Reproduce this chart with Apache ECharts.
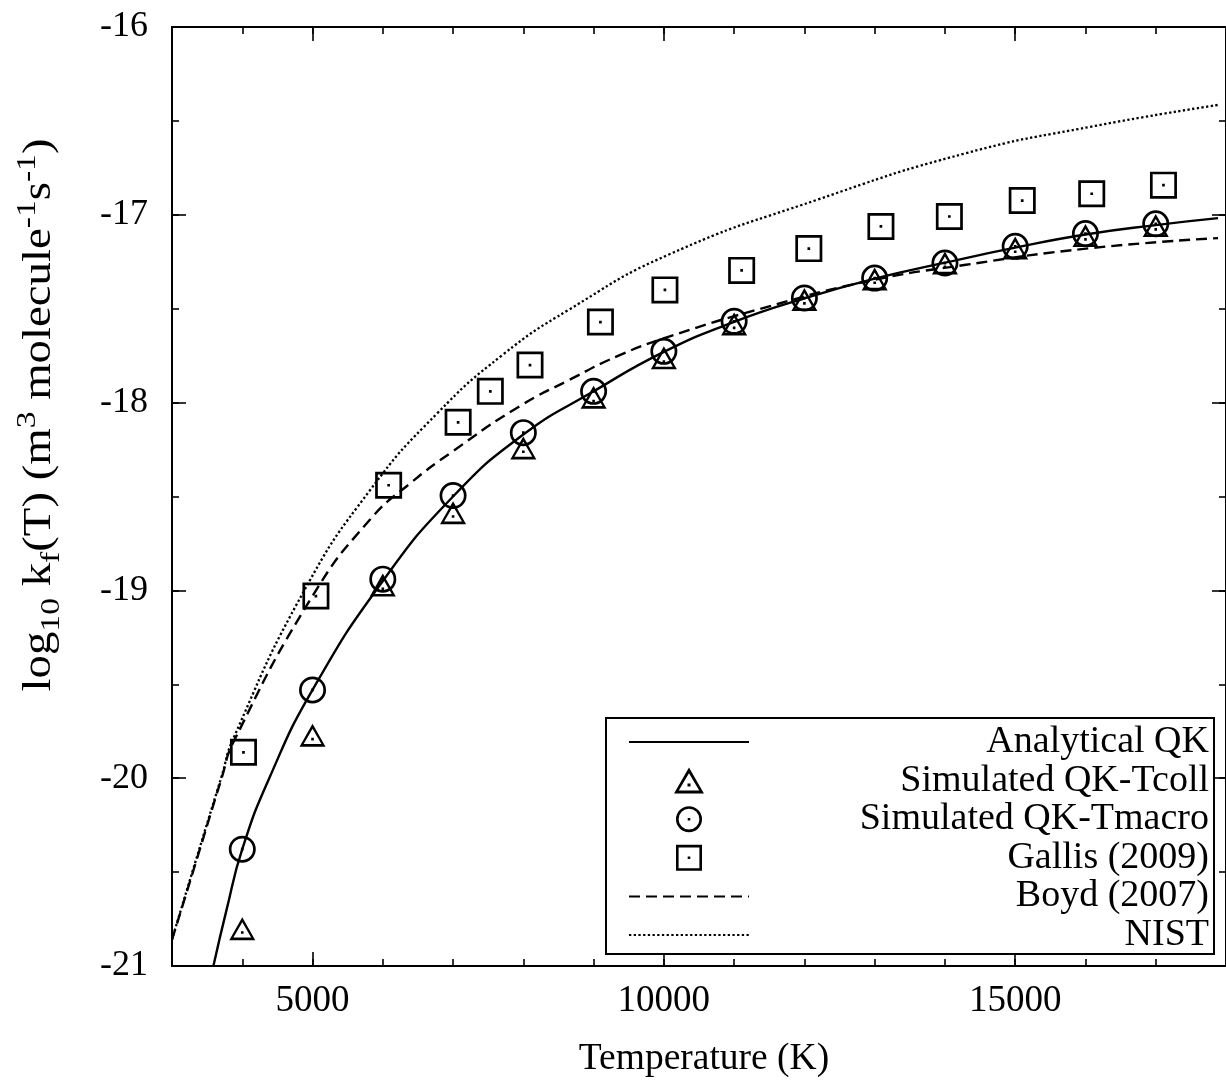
<!DOCTYPE html>
<html><head><meta charset="utf-8">
<script src="https://cdn.jsdelivr.net/npm/echarts@6/dist/echarts.min.js"></script>
<style>html,body{margin:0;padding:0;background:#fff}#c{width:1226px;height:1083px}</style>
</head><body><div id="c"></div>
<script>
// ---- data ----
const xTickLabels = [5000, 10000, 15000];
const yTickLabels = [-21, -20, -19, -18, -17, -16];

const simTemps = [4000, 5000, 6000, 7000, 8000, 9000, 10000, 11000, 12000, 13000, 14000, 15000, 16000, 17000];
const tcollValues = [-20.82, -19.79, -18.99, -18.605, -18.26, -17.99, -17.78, -17.60, -17.47, -17.36, -17.275, -17.195, -17.129, -17.076];
const tmacroValues = [-20.378, -19.53, -18.94, -18.495, -18.16, -17.94, -17.727, -17.567, -17.443, -17.337, -17.257, -17.168, -17.10, -17.048];

const gallisTemps = [4017, 5048, 6083, 7072, 7530, 8095, 9097, 10015, 11107, 12063, 13089, 14063, 15100, 16089, 17110];
const gallisValues = [-19.862, -19.03, -18.44, -18.105, -17.94, -17.80, -17.571, -17.40, -17.296, -17.18, -17.062, -17.009, -16.924, -16.888, -16.842];

const analyticTemps = [3589, 3777, 4000, 4384, 5000, 6000, 7000, 8000, 9000, 10000, 11000, 12000, 13000, 14000, 15000, 16000, 17000, 17887];
const analyticValues = [-21.0, -20.70, -20.378, -20.0, -19.53, -18.95, -18.50, -18.17, -17.94, -17.73, -17.57, -17.445, -17.34, -17.255, -17.175, -17.105, -17.055, -17.018];

const boydTemps = [3000, 3297, 3706, 3871, 5000, 5825, 6390, 6993, 7944, 8650, 9356, 10062, 11475, 12887, 14299, 16089, 17887];
const boydValues = [-20.86, -20.5, -20.0, -19.81, -19.03, -18.62, -18.43, -18.26, -18.02, -17.88, -17.75, -17.65, -17.49, -17.355, -17.266, -17.177, -17.124];

const nistTemps = [3000, 3297, 3706, 3871, 4883, 5825, 6767, 7708, 8650, 10062, 12181, 14299, 16089, 17887];
const nistValues = [-20.86, -20.49, -19.99, -19.79, -19.0, -18.463, -18.06, -17.745, -17.505, -17.213, -16.92, -16.672, -16.53, -16.415];

// ---- helpers ----
const zip = (xs, ys) => xs.map((x, i) => [x, ys[i]]);
const FONT = '"Liberation Serif", "Times New Roman", serif';
const BLACK = '#000';

const circlePath = 'path://M0,50 A50,50 0 1,1 100,50 A50,50 0 1,1 0,50 Z M10,50 A40,40 0 1,0 90,50 A40,40 0 1,0 10,50 Z M45,45 L55,45 L55,55 L45,55 Z';
const squarePath = 'path://M0,0 L100,0 L100,100 L0,100 Z M10,10 L10,90 L90,90 L90,10 Z M45,45 L55,45 L55,55 L45,55 Z';
const trianglePath = 'path://M50,0 L100,87 L0,87 Z M50,19 L15.8,77 L84.2,77 Z M45,53 L55,53 L55,63 L45,63 Z';

function xAxisDef(pos, major) {
  const a = {
    type: 'value', position: pos, min: 3000, max: 18000,
    axisLine: { show: false }, splitLine: { show: false },
    axisLabel: { show: false },
    axisTick: { show: true, inside: true, length: major ? 14 : 7, lineStyle: { color: BLACK, width: 1.6 } }
  };
  if (major) a.axisTick.customValues = xTickLabels; else a.interval = 1000;
  return a;
}
function yAxisDef(pos, major) {
  const a = {
    type: 'value', position: pos, min: -21, max: -16,
    axisLine: { show: false }, splitLine: { show: false },
    axisLabel: { show: false },
    axisTick: { show: true, inside: true, length: major ? 14 : 7, lineStyle: { color: BLACK, width: 1.6 } }
  };
  if (major) a.axisTick.customValues = yTickLabels; else a.interval = 0.5;
  return a;
}

const xAxes = [xAxisDef('bottom', false), xAxisDef('bottom', true), xAxisDef('top', false), xAxisDef('top', true)];
xAxes[0].axisLabel = { show: true, customValues: xTickLabels, formatter: v => String(v), color: BLACK, fontFamily: FONT, fontSize: 37, margin: 17 };
xAxes[0].name = 'Temperature (K)';
xAxes[0].nameLocation = 'middle';
xAxes[0].nameGap = 74;
xAxes[0].nameTextStyle = { color: BLACK, fontFamily: FONT, fontSize: 37.5, padding: [0, 0, 0, 10] };

const yAxes = [yAxisDef('left', false), yAxisDef('left', true), yAxisDef('right', false), yAxisDef('right', true)];
yAxes[0].axisLabel = { show: true, customValues: yTickLabels, formatter: v => String(v), color: BLACK, fontFamily: FONT, fontSize: 36, margin: 24 };

const yTitle = '{n|log}{s|10}{n| k}{s|f}{n|(T) (m}{p|3}{n| molecule}{p|-1}{n|s}{p|-1}{n|)}';

const lineLegendHide = { color: 'rgba(0,0,0,0)', borderColor: 'rgba(0,0,0,0)', borderWidth: 0, opacity: 0 };

const option = {
  animation: false,
  backgroundColor: '#fff',
  grid: { left: 172, top: 27, width: 1062, height: 940, show: true, borderColor: BLACK, borderWidth: 2, backgroundColor: 'transparent' },
  xAxis: xAxes,
  yAxis: yAxes,
  graphic: [{
    type: 'text', x: 40, y: 415, rotation: Math.PI / 2, scaleX: 1.2, scaleY: 1,
    style: {
      text: yTitle, align: 'center', verticalAlign: 'middle', fill: BLACK,
      font: '38px ' + FONT,
      rich: {
        n: { fontFamily: FONT, fontSize: 39, fill: BLACK, lineHeight: 52 },
        s: { fontFamily: FONT, fontSize: 28, fill: BLACK, verticalAlign: 'bottom' },
        p: { fontFamily: FONT, fontSize: 28, fill: BLACK, verticalAlign: 'top' }
      }
    }
  }],
  legend: {
    orient: 'vertical', left: 606, top: 718,
    itemWidth: 120, itemHeight: 26, itemGap: 0.6,
    padding: [5, 5, 0, 22],
    borderColor: BLACK, borderWidth: 2, backgroundColor: '#fff',
    formatter: name => '{r|' + name + '}',
    textStyle: {
      color: BLACK, fontFamily: FONT, fontSize: 38,
      rich: { r: { width: 455, align: 'right', fontFamily: FONT, fontSize: 38, color: BLACK, lineHeight: 38 } }
    },
    data: [
      { name: 'Analytical QK', itemStyle: lineLegendHide },
      'Simulated QK-Tcoll',
      'Simulated QK-Tmacro',
      'Gallis (2009)',
      { name: 'Boyd (2007)', itemStyle: lineLegendHide },
      { name: 'NIST', itemStyle: lineLegendHide }
    ]
  },
  series: [
    { name: 'Analytical QK', type: 'line', data: zip(analyticTemps, analyticValues), smooth: 0.5,
      symbol: 'none', lineStyle: { color: BLACK, width: 2.4 }, itemStyle: { color: BLACK } },
    { name: 'Simulated QK-Tcoll', type: 'scatter', data: zip(simTemps, tcollValues), symbol: trianglePath,
      symbolSize: [26, 23], symbolOffset: [0, -3.5], itemStyle: { color: BLACK, opacity: 1 } },
    { name: 'Simulated QK-Tmacro', type: 'scatter', data: zip(simTemps, tmacroValues), symbol: circlePath,
      symbolSize: 27, itemStyle: { color: BLACK, opacity: 1 } },
    { name: 'Gallis (2009)', type: 'scatter', data: zip(gallisTemps, gallisValues), symbol: squarePath,
      symbolSize: 27, itemStyle: { color: BLACK, opacity: 1 } },
    { name: 'Boyd (2007)', type: 'line', data: zip(boydTemps, boydValues), smooth: 0.5,
      symbol: 'none', lineStyle: { color: BLACK, width: 2.4, type: [11, 6] }, itemStyle: { color: BLACK } },
    { name: 'NIST', type: 'line', data: zip(nistTemps, nistValues), smooth: 0.5,
      symbol: 'none', lineStyle: { color: BLACK, width: 2.3, type: [2.3, 2.4] }, itemStyle: { color: BLACK } }
  ]
};

const chart = echarts.init(document.getElementById('c'), null, { renderer: 'canvas' });
chart.setOption(option);
</script>
</body></html>
